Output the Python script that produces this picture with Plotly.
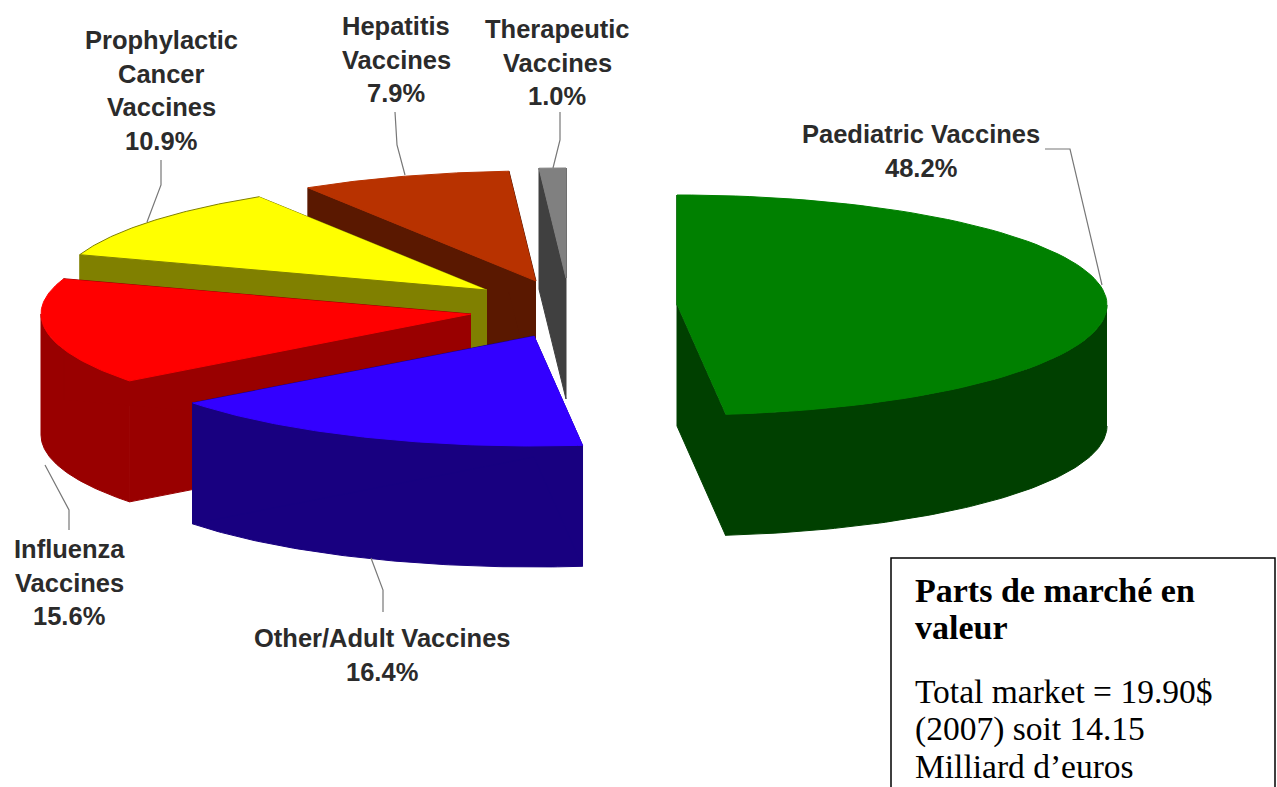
import numpy as np
import plotly.graph_objects as go

# --- data ---
categories = ["Paediatric Vaccines", "Other/Adult Vaccines", "Influenza Vaccines",
              "Prophylactic Cancer Vaccines", "Hepatitis Vaccines", "Therapeutic Vaccines"]
shares = [48.2, 16.4, 15.6, 10.9, 7.9, 1.0]
label_lines = [["Paediatric Vaccines", "48.2%"],
               ["Other/Adult Vaccines", "16.4%"],
               ["Influenza", "Vaccines", "15.6%"],
               ["Prophylactic", "Cancer", "Vaccines", "10.9%"],
               ["Hepatitis", "Vaccines", "7.9%"],
               ["Therapeutic", "Vaccines", "1.0%"]]

# --- styling and geometry of the exploded 3D pie ---
top_colors = ["#008000", "#3300ff", "#ff0000", "#ffff00", "#b83200", "#808080"]
side_colors = ["#004000", "#180080", "#990000", "#808000", "#5a1800", "#404040"]
center = (565.0, 310.0)
explode_x = [112, -31, -94, -78, -29, 1]
explode_y = [-5, 26, 4, -20, -29, -32]
radius_x, radius_y = 430.0, 110.0
depth = 121.0
label_x = [921, 382, 69, 161, 396, 557]
label_y = [134, 638, 549, 40, 26, 29]
line_gap = 33.5
leaders = [([1045, 1070, 1102], [149, 149, 285]),
           ([383, 383, 371], [612, 590, 558]),
           ([69, 69, 45], [530, 510, 465]),
           ([161, 161, 147], [160, 185, 222]),
           ([395, 397, 405], [112, 145, 175]),
           ([560, 560, 553], [112, 140, 168])]

fig = go.Figure()


def poly(xs, ys, color, edge=None):
    fig.add_trace(go.Scatter(x=xs, y=ys, mode="lines", fill="toself", fillcolor=color,
                             line=dict(color=edge or color, width=1),
                             hoverinfo="skip", showlegend=False))


edges = np.cumsum([0.0] + shares) / sum(shares) * 2 * np.pi
# painter's order: back to front
for i in [5, 4, 3, 2, 1, 0]:
    a0, a1 = edges[i], edges[i + 1]
    cx = center[0] + explode_x[i]
    cy = center[1] + explode_y[i]
    t = np.linspace(a0, a1, 90)
    ax = cx + radius_x * np.sin(t)
    ay = cy - radius_y * np.cos(t)
    # outer wall: only the part of the rim that faces the viewer
    lo, hi = max(a0, np.pi / 2), min(a1, 3 * np.pi / 2)
    if hi > lo:
        w = np.linspace(lo, hi, 90)
        wx = cx + radius_x * np.sin(w)
        wy = cy - radius_y * np.cos(w)
        poly(np.r_[wx, wx[::-1]], np.r_[wy, wy[::-1] + depth], side_colors[i])
    # the two cut faces
    for k in (0, -1):
        poly([cx, ax[k], ax[k], cx], [cy, ay[k], ay[k] + depth, cy + depth], side_colors[i])
    # top face
    poly(np.r_[cx, ax], np.r_[cy, ay], top_colors[i],
         edge=side_colors[i] if i == 3 else top_colors[i])

for xs, ys in leaders:
    fig.add_trace(go.Scatter(x=xs, y=ys, mode="lines", line=dict(color="#777777", width=1.2),
                             hoverinfo="skip", showlegend=False))

for lines, x, y in zip(label_lines, label_x, label_y):
    for j, line in enumerate(lines):
        fig.add_annotation(x=x, y=y + j * line_gap, text=line, showarrow=False,
                           font=dict(family="Liberation Sans", size=25.5, color="#2b2b2b", weight="bold"),
                           xanchor="center", yanchor="middle")

# text box
fig.add_trace(go.Scatter(x=[891, 891, 1275, 1275], y=[787, 558, 558, 787], mode="lines",
                         line=dict(color="#000000", width=1.5), hoverinfo="skip", showlegend=False))
box_lines = [("Parts de marché en", 590, True, 34), ("valeur", 627, True, 34),
             ("Total market = 19.90$", 691, False, 33.5), ("(2007) soit 14.15", 729, False, 33.5),
             ("Milliard d’euros", 766, False, 33.5)]
for text, y, bold, size in box_lines:
    fig.add_annotation(x=913, y=y, text=text, showarrow=False, xanchor="left", yanchor="middle",
                       font=dict(family="Liberation Serif", size=size, color="#000000",
                                 weight="bold" if bold else "normal"))

fig.update_layout(width=1277, height=787, margin=dict(l=0, r=0, t=0, b=0),
                  paper_bgcolor="white", plot_bgcolor="white", showlegend=False,
                  xaxis=dict(range=[0, 1277], visible=False, fixedrange=True),
                  yaxis=dict(range=[787, 0], visible=False, fixedrange=True))
fig.write_html("out.html", config={"displayModeBar": False},
               post_script="document.body.style.margin='0';document.body.style.overflow='hidden';")
